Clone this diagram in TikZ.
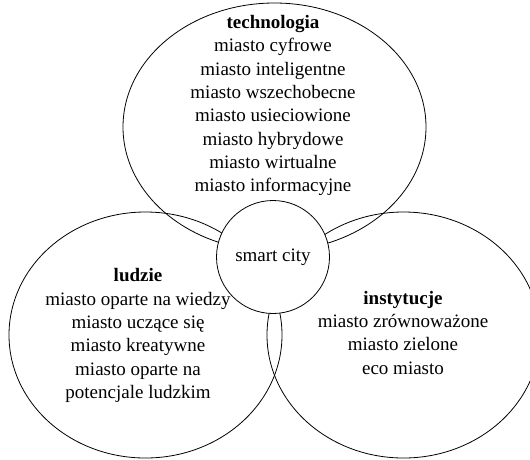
\documentclass[tikz,border=0pt]{standalone}
\usepackage{fontspec}
\setmainfont{Liberation Serif}
\usepackage{tikz}
\usetikzlibrary{
    shapes,
    shapes.geometric,
    positioning,
}

\begin{document}
\begin{tikzpicture}[x=1pt,y=-1pt]

                \tikzstyle{commonNode}=[font=\fontsize{19}{23.3}\selectfont, align=center]
                \tikzstyle{area}=[ellipse, draw=black, line width=0.8pt, inner sep=0pt]
                \tikzstyle{caption}=[commonNode, anchor=base]
                \tikzstyle{hub}=[commonNode, circle, draw=black, fill=white, line width=0.8pt, minimum size=113pt, inner sep=0pt]

                \useasboundingbox (0,0) rectangle (530,459);

                \begin{scope}

                    \def \wide {273pt}
                    \def \high {246pt}

                    % Three areas
                    \node at (274.5, 127) [area, minimum width=303pt, minimum height=248pt] (T) {};
                    \node at (145.5, 335) [area, minimum width=\wide, minimum height=\high] (L) {};
                    \node at (403.5, 335) [area, minimum width=\wide, minimum height=\high] (R) {};

                    % Captions (anchored on the last line)
                    \node at (273, 191.7) [caption] (TT) {\textbf{technologia} \\ miasto cyfrowe \\ miasto inteligentne \\ miasto wszechobecne \\ miasto usieciowione \\ miasto hybrydowe \\ miasto wirtualne \\ miasto informacyjne};
                    \node at (138, 398.3) [caption] (LT) {\textbf{ludzie} \\ miasto oparte na wiedzy \\ miasto uczące się \\ miasto kreatywne \\ miasto oparte na \\ potencjale ludzkim};
                    \node at (403, 374) [caption] (RT) {\textbf{instytucje} \\ miasto zrównoważone \\ miasto zielone \\ eco miasto};

                    % Centre
                    \node at (273, 257) [hub] (SC) {smart city};
                \end{scope}
            \end{tikzpicture}
\end{document}
